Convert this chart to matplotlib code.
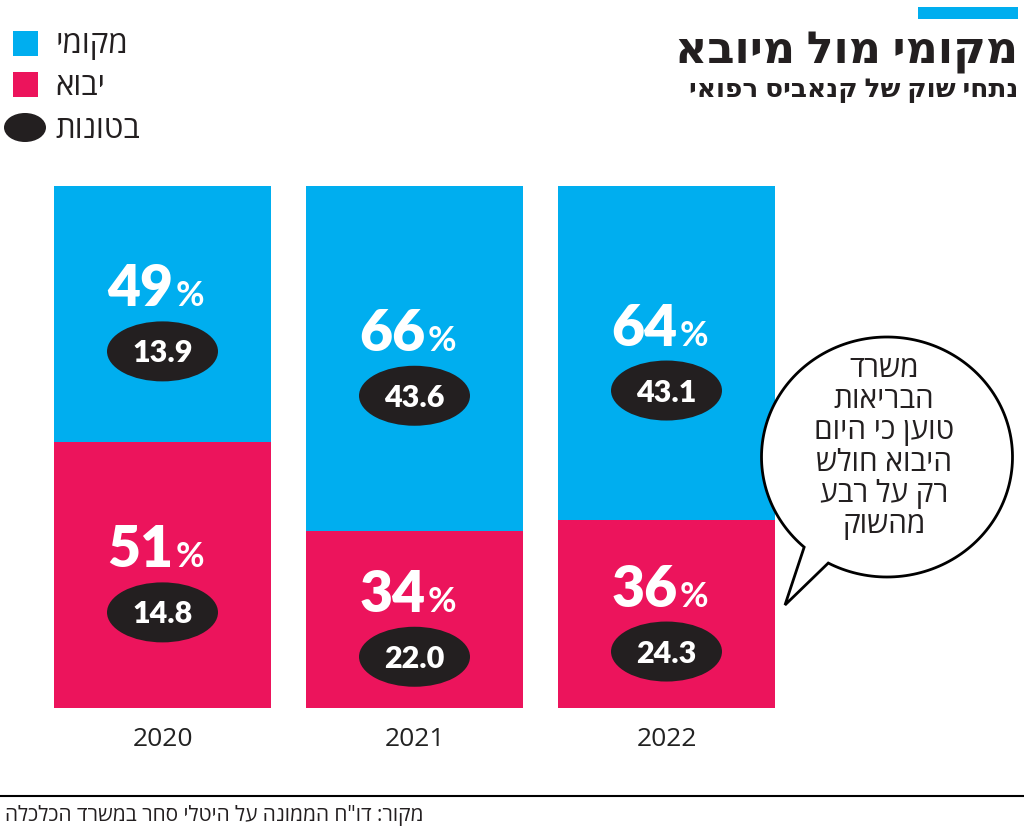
import matplotlib.pyplot as plt
from matplotlib.patches import Ellipse, Polygon, Rectangle
import numpy as np

# data
years = ['2020', '2021', '2022']
local_pct = [49, 66, 64]
import_pct = [51, 34, 36]
local_tons = [13.9, 43.6, 43.1]
import_tons = [14.8, 22.0, 24.3]

title = 'מקומי מול מיובא'
subtitle = 'נתחי שוק של קנאביס רפואי'
legend_names = ['מקומי', 'יבוא', 'בטונות']
bubble_lines = ['משרד', 'הבריאות', 'טוען כי היום', 'היבוא חולש', 'רק על רבע', 'מהשוק']
source = 'מקור: דו"ח הממונה על היטלי סחר במשרד הכלכלה'

BLUE = '#00AEEF'
PINK = '#EC145C'
DARK = '#231F20'
HEB = ['Open Sans', 'DejaVu Sans']
NUM = ['Lato', 'DejaVu Sans']


def rtl(s):
    # matplotlib has no bidi, flip hebrew by hand
    return s[::-1]


fig = plt.figure(figsize=(10.24, 8.32), dpi=100)

# bars
ax = fig.add_axes([36.5/1024, 124/832, 756/1024, 522/832])
x = np.arange(len(years))
ax.bar(x, import_pct, width=217/252, color=PINK)
ax.bar(x, local_pct, bottom=import_pct, width=217/252, color=BLUE)
ax.set_xlim(-0.5, 2.5)
ax.set_ylim(0, 100)
ax.set_xticks(x, years, fontsize=19, family=HEB, color='#222222')
ax.tick_params(axis='x', length=0, pad=14)
ax.set_yticks([])
for sp in ax.spines.values():
    sp.set_visible(False)

px = 1/252      # x data per pixel
py = 100/522    # y data per pixel
for i in range(len(years)):
    segs = [(import_pct[i]/2, import_pct[i], import_tons[i]),
            (import_pct[i] + local_pct[i]/2, local_pct[i], local_tons[i])]
    for yc, pct, tons in segs:
        ax.text(i + 11*px, yc + 7.5*py, str(pct), ha='right', va='baseline',
                fontsize=41, fontweight='heavy', family=NUM, color='white')
        ax.text(i + 13*px, yc + 7.5*py, '%', ha='left', va='baseline',
                fontsize=25, fontweight='bold', family=NUM, color='white')
        ax.add_patch(Ellipse((i, yc - 37.5*py), 111*px, 60*py, color=DARK, lw=0))
        ax.text(i, yc - 48.5*py, '%.1f' % tons, ha='center', va='baseline',
                fontsize=22, fontweight='heavy', family=NUM, color='white')

# overlay in pixel coords for titles, legend, bubble, footer
deco = fig.add_axes([0, 0, 1, 1], zorder=5)
deco.set_xlim(0, 1024)
deco.set_ylim(832, 0)
deco.axis('off')
deco.patch.set_alpha(0)

deco.add_patch(Rectangle((918, 7), 100, 12, color=BLUE, lw=0))
deco.text(1018, 64, rtl(title), ha='right', va='baseline', fontsize=32,
          fontweight='bold', family=HEB, color=DARK)
deco.text(1018, 97, rtl(subtitle), ha='right', va='baseline', fontsize=19,
          fontweight='bold', family=HEB, color=DARK)

# legend
deco.add_patch(Rectangle((13, 31), 25, 25, color=BLUE, lw=0))
deco.add_patch(Rectangle((13, 72), 25, 25, color=PINK, lw=0))
deco.add_patch(Ellipse((25, 127.5), 42, 29, color=DARK, lw=0))
for name, yb in zip(legend_names, [53, 95, 138]):
    deco.text(55, yb, rtl(name), ha='left', va='baseline', fontsize=22.5,
              family=HEB, color=DARK)

# speech bubble
cx, cy, rx, ry = 887, 457, 125.5, 120
a = np.radians(np.linspace(117.9, 131.3 - 360, 200))
pts = list(zip(cx + rx*np.cos(a), cy + ry*np.sin(a)))
pts.append((785, 605))
deco.add_patch(Polygon(pts, closed=True, facecolor='white', edgecolor='black',
                       lw=2, joinstyle='miter'))
for k, line in enumerate(bubble_lines):
    deco.text(884, 377 + k*31.2, rtl(line), ha='center', va='baseline',
              fontsize=21.5, family=HEB, color=DARK)

# footer
deco.plot([0, 1024], [796, 796], color='black', lw=1.5)
deco.text(5, 821, rtl(source), ha='left', va='baseline', fontsize=15,
          family=HEB, color=DARK)

plt.savefig('out.png', dpi=100)
